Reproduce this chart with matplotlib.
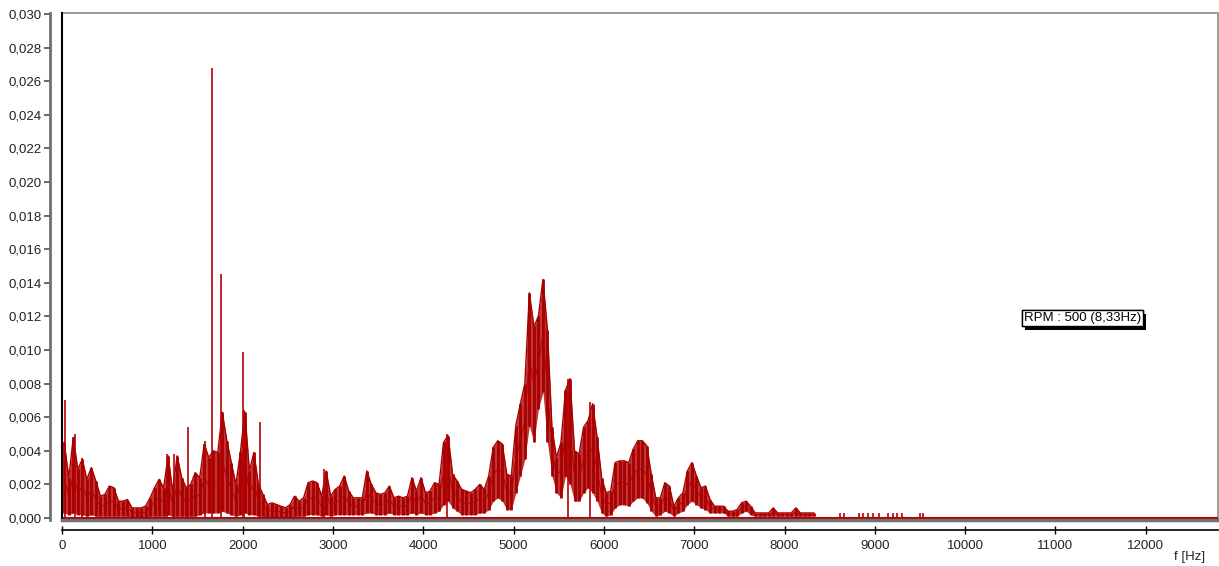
import matplotlib.pyplot as plt
import matplotlib.patheffects as pe
import numpy as np
from matplotlib.patches import Rectangle
from matplotlib.ticker import FuncFormatter

plt.rcParams['font.family'] = ['Liberation Sans', 'DejaVu Sans']

# Spectrum, 50 Hz bins, amplitude in units of 0.001
bin_freqs = np.arange(25, 8375, 50)
band_top = [
    4.5, 2.4, 4.8, 2.9, 3.5, 2.3, 3.0, 2.2, 1.3, 1.4,
    1.9, 1.8, 1.0, 1.0, 1.1, 0.6, 0.6, 0.6, 0.7, 1.2,
    1.8, 2.3, 1.8, 3.7, 1.6, 3.7, 2.4, 1.8, 2.0, 2.7,
    2.4, 4.4, 3.6, 4.0, 3.9, 6.3, 4.6, 3.3, 2.0, 3.9,
    6.3, 2.8, 3.9, 2.0, 1.4, 0.8, 0.9, 0.8, 0.7, 0.6,
    0.8, 1.3, 1.0, 1.2, 2.1, 2.2, 2.1, 1.3, 2.8, 1.3,
    1.7, 1.9, 2.5, 1.6, 1.2, 1.2, 1.2, 2.8, 2.0, 1.5,
    1.4, 1.5, 1.9, 1.2, 1.3, 1.2, 1.3, 2.4, 1.6, 2.4,
    1.5, 1.6, 2.1, 2.0, 4.5, 4.9, 2.6, 2.2, 1.7, 1.6,
    1.5, 1.7, 2.0, 1.7, 2.5, 4.2, 4.6, 4.4, 2.6, 2.5,
    5.5, 6.8, 8.0, 13.4, 11.4, 12.0, 14.2, 11.2, 5.4, 3.6,
    4.5, 7.6, 8.3, 4.0, 3.8, 5.4, 5.8, 6.8, 4.8, 2.4,
    1.5, 1.6, 3.3, 3.4, 3.4, 3.3, 4.1, 4.6, 4.6, 4.3,
    2.6, 1.2, 1.2, 2.1, 1.9, 0.7, 1.2, 1.5, 2.8, 3.3,
    2.5, 1.8, 1.9, 1.1, 0.7, 0.7, 0.7, 0.4, 0.4, 0.5,
    0.9, 1.0, 0.7, 0.3, 0.3, 0.3, 0.3, 0.6, 0.3, 0.3,
    0.3, 0.3, 0.6, 0.3, 0.3, 0.3, 0.3,
]
band_floor = [
    0.3, 0.2, 0.3, 0.2, 0.2, 0.1, 0.2, 0.1, 0.1, 0.1,
    0.1, 0.1, 0.1, 0.1, 0.1, 0.0, 0.0, 0.0, 0.0, 0.1,
    0.1, 0.1, 0.1, 0.2, 0.1, 0.1, 0.1, 0.1, 0.1, 0.1,
    0.2, 0.3, 0.3, 0.3, 0.3, 0.4, 0.3, 0.2, 0.1, 0.2,
    0.3, 0.2, 0.2, 0.1, 0.1, 0.0, 0.0, 0.0, 0.0, 0.0,
    0.0, 0.1, 0.1, 0.1, 0.2, 0.2, 0.2, 0.1, 0.2, 0.1,
    0.2, 0.2, 0.2, 0.2, 0.2, 0.2, 0.2, 0.3, 0.3, 0.2,
    0.2, 0.2, 0.3, 0.2, 0.2, 0.2, 0.2, 0.3, 0.2, 0.3,
    0.2, 0.2, 0.3, 0.4, 0.8, 1.0, 0.6, 0.4, 0.2, 0.2,
    0.2, 0.2, 0.3, 0.3, 0.5, 1.0, 1.2, 1.0, 0.5, 0.5,
    1.5, 2.5, 3.5, 5.5, 4.5, 6.5, 7.5, 4.5, 2.5, 1.5,
    1.2, 2.5, 2.0, 1.0, 1.0, 1.5, 1.8, 1.5, 1.0, 0.3,
    0.1, 0.2, 0.6, 0.8, 0.8, 0.7, 1.0, 1.2, 1.2, 0.9,
    0.4, 0.1, 0.2, 0.4, 0.3, 0.1, 0.3, 0.4, 0.8, 1.0,
    0.8, 0.6, 0.5, 0.3, 0.3, 0.3, 0.3, 0.1, 0.1, 0.1,
    0.3, 0.4, 0.2, 0.1, 0.1, 0.1, 0.1, 0.1, 0.1, 0.1,
    0.1, 0.1, 0.1, 0.1, 0.1, 0.1, 0.1,
]

# Single tall lines sticking out of the band
spike_freqs = [37, 144, 218, 1168, 1242, 1390, 1580, 1665, 1757, 2004, 2015,
               2190, 2900, 4260, 5600, 5850,
               8620, 8660, 8820, 8870, 8920, 8980, 9050, 9150, 9200, 9250,
               9300, 9500, 9530]
spike_amps = [7.0, 5.0, 3.6, 3.8, 3.8, 5.4, 4.6, 26.8, 14.5, 9.9, 6.4,
              5.7, 2.9, 5.0, 8.3, 6.9,
              0.3, 0.3, 0.3, 0.3, 0.3, 0.3, 0.3, 0.3, 0.3, 0.3,
              0.3, 0.3, 0.3]

x_ticks = list(range(0, 12001, 1000))
y_ticks = [0.000, 0.002, 0.004, 0.006, 0.008, 0.010, 0.012, 0.014,
           0.016, 0.018, 0.020, 0.022, 0.024, 0.026, 0.028, 0.030]
rpm_label = 'RPM : 500 (8,33Hz)'

top = np.array(band_top) / 1000
floor = np.array(band_floor) / 1000
spikes = np.array(spike_amps) / 1000

px = 72 / 100  # one pixel in points

fig = plt.figure(figsize=(12.19, 5.66), dpi=100)
ax = fig.add_axes([62 / 1219, 46 / 566, 1156 / 1219, 507 / 566])

# Band of the spectrum: lighter fill, dark lines over it
ax.fill_between(bin_freqs, floor, top, color='#bf3434', linewidth=0)
ax.vlines(bin_freqs, floor, top, color='#a80000', linewidth=2.0)
ax.plot(bin_freqs, top, color='#a80000', linewidth=1.0)
ax.plot(bin_freqs, (top + floor) / 2, color='#b00000', linewidth=0.7)
ax.vlines(spike_freqs, 0, spikes, color='#b80000', linewidth=1.2)
ax.axhline(0, color='#b00000', linewidth=1.5)

ax.set_xlim(0, 12800)
ax.set_ylim(-0.00012, 0.03006)

# Plot frame: gray box, black left edge
ax.add_patch(Rectangle((0, 0), 1, 1, transform=ax.transAxes, fill=False,
                       edgecolor='#8a8a8a', linewidth=1.2, clip_on=False))
ax.plot([0, 0], [0, 1], transform=ax.transAxes, color='black', linewidth=1.5, clip_on=False)
ax.plot([0, 1], [0, 0], transform=ax.transAxes, color='#707070', linewidth=2.5, clip_on=False)

# Axis lines pulled away from the frame
for side in ['top', 'right']:
    ax.spines[side].set_visible(False)
ax.spines['left'].set_position(('outward', 12 * px))
ax.spines['left'].set_color('#707070')
ax.spines['left'].set_linewidth(2)
ax.spines['bottom'].set_position(('outward', 10 * px))
ax.spines['bottom'].set_color('black')
ax.spines['bottom'].set_linewidth(1.2)

ax.set_xticks(x_ticks)
ax.set_yticks(y_ticks)
ax.yaxis.set_major_formatter(FuncFormatter(lambda v, p: f'{v:.3f}'.replace('.', ',')))
ax.tick_params(axis='y', direction='out', length=6 * px, width=1.2, color='#505050',
               labelsize=9.5, pad=2 * px, labelcolor='#222222')
ax.tick_params(axis='x', direction='inout', length=8 * px, width=1, color='black',
               labelsize=9.5, pad=6 * px, labelcolor='#222222')

# Annotation box with a hard shadow
t = ax.text(11296, 0.0119, rpm_label, fontsize=9.5, ha='center', va='center',
            bbox=dict(boxstyle='square,pad=0.15', facecolor='white',
                      edgecolor='black', linewidth=1))
t.get_bbox_patch().set_path_effects([
    pe.withSimplePatchShadow(offset=(2.5, -2.5), shadow_rgbFace='black', alpha=1),
    pe.Normal()])

fig.text(1190 / 1219, 1 - 557 / 566, 'f [Hz]', fontsize=9.5, ha='center', va='center',
         color='#222222')

plt.savefig('out.png', dpi=100)
